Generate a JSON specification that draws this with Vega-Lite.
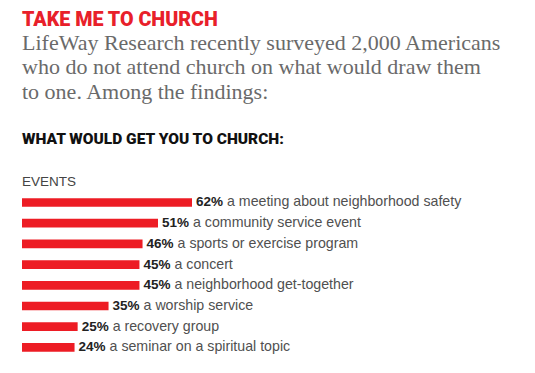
{
  "$schema": "https://vega.github.io/schema/vega-lite/v6.json",
  "background": "white",
  "padding": {"left": 22, "top": 9, "right": 5, "bottom": 10},
  "title": {
    "text": "TAKE ME TO CHURCH",
    "subtitle": ["LifeWay Research recently surveyed 2,000 Americans", "who do not attend church on what would draw them", "to one. Among the findings:"],
    "anchor": "start",
    "font": "Roboto",
    "fontWeight": 900,
    "fontSize": 19.7,
    "color": "#e8202a",
    "subtitleFont": "Liberation Serif",
    "subtitleFontSize": 22,
    "subtitleColor": "#6a6a6a",
    "subtitleLineHeight": 24.5,
    "subtitlePadding": 3,
    "offset": 29
  },
  "data": {
    "values": [
      {"pct": 0.62, "label": "a meeting about neighborhood safety"},
      {"pct": 0.51, "label": "a community service event"},
      {"pct": 0.46, "label": "a sports or exercise program"},
      {"pct": 0.45, "label": "a concert"},
      {"pct": 0.45, "label": "a neighborhood get-together"},
      {"pct": 0.35, "label": "a worship service"},
      {"pct": 0.25, "label": "a recovery group"},
      {"pct": 0.24, "label": "a seminar on a spiritual topic"}
    ]
  },
  "vconcat": [
    {
      "title": {
        "text": "WHAT WOULD GET YOU TO CHURCH:",
        "subtitle": "EVENTS",
        "anchor": "start",
        "font": "Roboto",
        "fontWeight": 900,
        "fontSize": 15.5,
        "color": "#111111",
        "subtitleFont": "Liberation Sans",
        "subtitleFontSize": 13.5,
        "subtitleColor": "#444444",
        "subtitlePadding": 28,
        "offset": 5.5
      },
      "width": 170,
      "height": {"step": 20.7},
      "encoding": {
        "y": {"field": "label", "type": "nominal", "sort": null, "axis": null,
              "scale": {"paddingInner": 0.58, "paddingOuter": 0.2}},
        "x": {"field": "pct", "type": "quantitative", "axis": null,
              "scale": {"domain": [0.07, 0.62], "zero": false, "nice": false}}
      },
      "layer": [
        {"mark": {"type": "bar", "color": "#ed1c24"}, "encoding": {"x2": {"datum": 0.07}}},
        {"mark": {"type": "text", "align": "left", "dx": 4, "font": "Liberation Sans", "fontWeight": "bold", "fontSize": 13.5, "color": "#222222"},
         "encoding": {"text": {"field": "pct", "format": ".0%"}}},
        {"mark": {"type": "text", "align": "left", "dx": 35, "font": "Liberation Sans", "fontSize": 14.2, "color": "#505050"},
         "encoding": {"text": {"field": "label"}}}
      ]
    }
  ],
  "config": {"view": {"stroke": null}}
}
